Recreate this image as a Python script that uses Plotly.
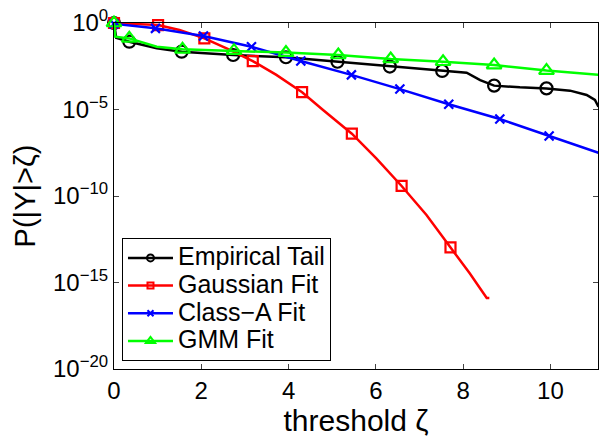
import numpy as np
import plotly.graph_objects as go

# ---- data (y stored as log10 values) ----
emp_x = [0, 0.05, 0.35, 0.98, 1.55, 2.73, 3.94, 5.12, 6.32, 7.52, 8.08, 8.39, 8.71, 9.3, 9.91, 10.45, 10.83, 11.02, 11.1]
emp_logy = [0, -0.85, -1.08, -1.46, -1.66, -1.85, -1.98, -2.24, -2.52, -2.77, -2.87, -3.3, -3.62, -3.72, -3.78, -3.91, -4.16, -4.45, -4.84]
emp_mx = [0, 0.35, 1.55, 2.73, 3.94, 5.12, 6.32, 7.52, 8.71, 9.91]
emp_mlogy = [0, -1.08, -1.66, -1.85, -1.98, -2.24, -2.52, -2.77, -3.62, -3.78]

gau_x = [0, 1.01, 1.5, 2.07, 2.58, 3.18, 3.72, 4.31, 4.79, 5.45, 6.01, 6.59, 7.16, 7.71, 8.15, 8.54, 8.6]
gau_logy = [0, -0.12, -0.4, -0.89, -1.46, -2.2, -3.0, -4.0, -5.03, -6.4, -7.82, -9.42, -11.1, -12.97, -14.47, -15.9, -15.9]
gau_mx = [0, 1.01, 2.07, 3.18, 4.31, 5.45, 6.59, 7.71]
gau_mlogy = [0, -0.12, -0.89, -2.2, -4.0, -6.4, -9.42, -12.97]

cla_x = [0, 0.95, 2.05, 3.15, 4.28, 5.44, 6.55, 7.67, 8.84, 9.97, 11.1]
cla_logy = [-0.05, -0.31, -0.75, -1.37, -2.2, -3.0, -3.82, -4.7, -5.55, -6.53, -7.5]
cla_mx = [0, 0.95, 2.05, 3.15, 4.28, 5.44, 6.55, 7.67, 8.84, 9.97]
cla_mlogy = [-0.05, -0.31, -0.75, -1.37, -2.2, -3.0, -3.82, -4.7, -5.55, -6.53]

gmm_x = [0, 0.03, 0.35, 0.98, 1.57, 2.75, 3.94, 5.14, 6.34, 7.54, 8.71, 9.91, 11.1]
gmm_logy = [0, -0.79, -0.89, -1.37, -1.52, -1.6, -1.71, -1.85, -2.08, -2.24, -2.43, -2.75, -3.0]
gmm_mx = [0, 0.35, 1.57, 2.75, 3.94, 5.14, 6.34, 7.54, 8.71, 9.91]
gmm_mlogy = [0, -0.89, -1.52, -1.6, -1.71, -1.85, -2.08, -2.24, -2.43, -2.75]

x_ticks = [0, 2, 4, 6, 8, 10]
y_tick_exp = [0, -5, -10, -15, -20]
y_tick_text = ["10<sup>0</sup>", "10<sup>\u22125</sup>", "10<sup>\u221210</sup>",
               "10<sup>\u221215</sup>", "10<sup>\u221220</sup>"]

series = [
    ("Empirical Tail", "#000000", "circle-open", 12, emp_x, emp_logy, emp_mx, emp_mlogy),
    ("Gaussian Fit", "#FF0000", "square-open", 10, gau_x, gau_logy, gau_mx, gau_mlogy),
    ("Class\u2212A Fit", "#0000FF", "x-thin-open", 9, cla_x, cla_logy, cla_mx, cla_mlogy),
    ("GMM Fit", "#00FF00", "triangle-up-open", 13, gmm_x, gmm_logy, gmm_mx, gmm_mlogy),
]

fig = go.Figure()
for name, col, sym, size, x, ly, mx, mly in series:
    fig.add_trace(go.Scatter(x=x, y=10.0 ** np.array(ly), mode="lines",
                             line=dict(color=col, width=2.5), showlegend=False,
                             cliponaxis=False, hoverinfo="skip"))
    fig.add_trace(go.Scatter(x=mx, y=10.0 ** np.array(mly), mode="markers",
                             marker=dict(symbol=sym, size=size, color=col,
                                         line=dict(color=col, width=2.2)),
                             showlegend=False, cliponaxis=False))
for name, col, sym, size, x, ly, mx, mly in series:
    fig.add_trace(go.Scatter(x=[None], y=[None], mode="lines+markers",
                             name='<span style="font-size:25px">' + name + "</span>",
                             line=dict(color=col, width=2.5),
                             marker=dict(symbol=sym, size=max(size - 5, 6), color=col,
                                         line=dict(color=col, width=2))))

font_family = "Liberation Sans, Arial, sans-serif"
fig.update_layout(
    width=604, height=437,
    margin=dict(l=114, r=6, t=23, b=68),
    paper_bgcolor="white", plot_bgcolor="white",
    font=dict(family=font_family, color="black", size=24),
    legend=dict(x=0.0165, y=0.023, xanchor="left", yanchor="bottom",
                bordercolor="black", borderwidth=1, bgcolor="white",
                font=dict(size=19, family=font_family), itemwidth=45,
                tracegroupgap=0),
    showlegend=True,
)
fig.update_xaxes(
    range=[0, 11.09], tickvals=x_ticks, ticks="inside", ticklen=5,
    showline=True, linecolor="black", linewidth=1, mirror="ticks",
    showgrid=False, zeroline=False, tickfont=dict(size=24),
    title=dict(text="threshold \u03b6", font=dict(size=30), standoff=6),
    automargin=False,
)
fig.update_yaxes(
    type="log", range=[-20, 0],
    tickvals=[10.0 ** e for e in y_tick_exp], ticktext=y_tick_text,
    ticks="inside", ticklen=5,
    showline=True, linecolor="black", linewidth=1, mirror="ticks",
    showgrid=False, zeroline=False, tickfont=dict(size=24),
    title=dict(text="P(|Y|>\u03b6)", font=dict(size=29), standoff=8),
    automargin=False,
)

fig.write_html("out.html")
